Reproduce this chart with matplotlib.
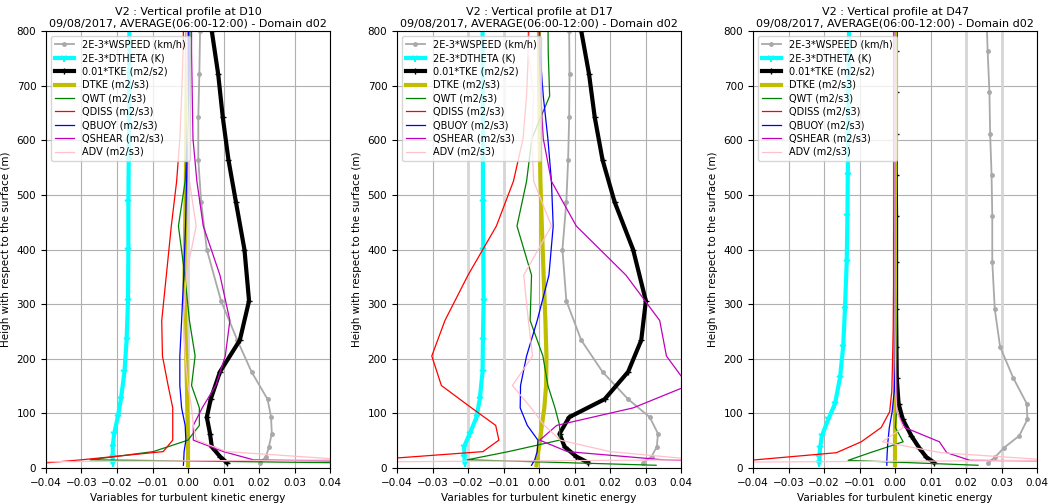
import numpy as np
import matplotlib
matplotlib.use('Agg')
import matplotlib.pyplot as plt

# heights (m) : mass levels and staggered levels used by the budget terms
z_mass = [10, 21, 39, 63, 93, 126, 176, 234, 306, 400, 487, 564, 642, 721, 800, 880]
z_w = [5, 15, 30, 51, 78, 110, 151, 205, 270, 353, 443, 525, 603, 681, 760, 840]
z_mass_d47 = [10, 20, 37, 59, 89, 118, 165, 222, 291, 378, 462, 537, 611, 688, 763, 840]
z_w_d47 = [5, 14, 28, 48, 74, 103, 141, 193, 256, 335, 420, 500, 574, 650, 725, 800]

stations = ['D10', 'D17', 'D47']

# ---- D10
wspeed_d10 = [0.0203, 0.022, 0.0228, 0.0236, 0.0234, 0.0224, 0.0179, 0.0139, 0.0093, 0.0053, 0.0037, 0.0029, 0.0029, 0.0032, 0.0034, 0.0036]
dtheta_d10 = [-0.0212, -0.0212, -0.0212, -0.0208, -0.0198, -0.0189, -0.0179, -0.0173, -0.0169, -0.0168, -0.0168, -0.0167, -0.0166, -0.0166, -0.0165, -0.0165]
tke_d10 = [0.0109, 0.009, 0.0067, 0.0062, 0.0053, 0.0064, 0.009, 0.0146, 0.0172, 0.0159, 0.0135, 0.0114, 0.0098, 0.0085, 0.0067, 0.005]
dtke_d10 = [0.0, 0.0, 0.0, 0.0, -0.0001, -0.0002, -0.0003, -0.0005, -0.0008, -0.001, -0.0008, -0.0006, -0.0005, -0.0004, -0.0003, -0.0003]
qwt_d10 = [0.1, -0.0276, -0.0098, 0.0, 0.0032, 0.0032, 0.001, 0.002, 0.0004, -0.0009, -0.0027, -0.0008, -0.0002, 0.0002, 0.0005, 0.0006]
qdiss_d10 = [-0.048, -0.03, -0.007, -0.0043, -0.0043, -0.0043, -0.0056, -0.0072, -0.0074, -0.0061, -0.0047, -0.0032, -0.0023, -0.0018, -0.0014, -0.0012]
qbuoy_d10 = [-0.0013, -0.0012, -0.0011, -0.0006, -0.0008, -0.0018, -0.0023, -0.0023, -0.0018, -0.0012, -0.0007, -0.0004, -0.0002, 0.0, 0.0001, 0.0001]
qshear_d10 = [0.12, 0.0184, 0.01, 0.0015, 0.0015, 0.004, 0.0078, 0.0105, 0.0118, 0.009, 0.0043, 0.0025, 0.0014, 0.0012, 0.001, 0.001]
adv_d10 = [-0.2, 0.045, 0.0109, 0.0024, 0.0015, 0.001, 0.0, -0.0008, -0.0013, -0.0005, 0.0023, 0.0004, 0.0, -0.0002, -0.0004, -0.0004]

# ---- D17
wspeed_d17 = [0.0293, 0.0317, 0.0332, 0.0335, 0.0312, 0.0251, 0.0179, 0.0119, 0.0077, 0.0066, 0.0077, 0.0082, 0.0085, 0.0086, 0.0085, 0.0085]
dtheta_d17 = [-0.0209, -0.021, -0.0211, -0.0195, -0.0176, -0.0167, -0.0159, -0.0158, -0.0156, -0.0157, -0.0158, -0.0158, -0.0158, -0.0159, -0.0159, -0.0159]
tke_d17 = [0.0138, 0.0105, 0.0072, 0.0058, 0.0085, 0.0185, 0.0251, 0.0288, 0.0301, 0.0265, 0.0213, 0.0179, 0.0157, 0.0141, 0.0119, 0.010]
dtke_d17 = [-0.0007, -0.0005, -0.0002, 0.0003, 0.0008, 0.0015, 0.002, 0.0021, 0.0018, 0.0013, 0.0008, 0.0004, 0.0002, 0.0001, 0.0, 0.0]
qwt_d17 = [0.033, -0.0202, -0.0086, 0.0058, 0.0058, 0.0045, 0.0025, 0.0011, -0.0025, -0.0021, -0.0062, -0.0035, -0.002, 0.003, 0.0026, 0.0025]
qdiss_d17 = [-0.09, -0.047, -0.0158, -0.0113, -0.0122, -0.019, -0.0275, -0.0302, -0.0265, -0.02, -0.012, -0.0072, -0.0045, -0.0035, -0.003, -0.0028]
qbuoy_d17 = [-0.0021, -0.0012, -0.0005, -0.0003, -0.0033, -0.0053, -0.0052, -0.0035, -0.0005, 0.0028, 0.004, 0.0035, 0.0025, 0.0012, 0.0003, 0.0]
qshear_d17 = [0.09, 0.035, 0.008, 0.0002, 0.005, 0.0265, 0.042, 0.0359, 0.034, 0.0245, 0.0105, 0.0035, 0.0012, 0.0005, 0.0001, 0.0]
adv_d17 = [-0.2, 0.045, 0.02, 0.006, 0.0015, -0.0022, -0.0075, -0.0018, -0.003, -0.0043, 0.0035, -0.0015, -0.002, -0.0015, -0.003, -0.0035]

# ---- D47
wspeed_d47 = [0.0263, 0.0282, 0.0307, 0.035, 0.0373, 0.0371, 0.0333, 0.0296, 0.0281, 0.0274, 0.0274, 0.0272, 0.0268, 0.0266, 0.0261, 0.0257]
dtheta_d47 = [-0.0213, -0.0213, -0.0211, -0.0206, -0.0188, -0.0169, -0.0155, -0.0146, -0.0141, -0.0136, -0.0134, -0.0133, -0.0132, -0.0131, -0.013, -0.0129]
tke_d47 = [0.011, 0.0088, 0.0068, 0.0046, 0.0022, 0.001, 0.0005, 0.0004, 0.0003, 0.0003, 0.0003, 0.0002, 0.0002, 0.0002, 0.0002, 0.0002]
dtke_d47 = [0.0, 0.0, 0.0, 0.0, 0.0, 0.0, 0.0, 0.0, 0.0, 0.0, 0.0, 0.0, 0.0, 0.0, 0.0, 0.0]
qwt_d47 = [0.0234, -0.0132, -0.007, 0.0023, 0.0001, 0.0004, 0.0005, 0.0003, 0.0002, 0.0001, 0.0001, 0.0, 0.0, 0.0, 0.0, 0.0]
qdiss_d47 = [-0.12, -0.041, -0.0165, -0.0095, -0.0039, -0.0015, -0.0009, -0.0007, -0.0005, -0.0004, -0.0004, -0.0003, -0.0003, -0.0003, -0.0003, -0.0003]
qbuoy_d47 = [-0.0023, -0.0023, -0.0022, -0.002, -0.0016, -0.0008, -0.0002, 0.0, 0.0, 0.0, 0.0, 0.0, 0.0, 0.0, 0.0, 0.0]
qshear_d47 = [0.25, 0.0211, 0.0146, 0.0125, 0.0028, 0.0005, 0.0003, 0.0002, 0.0001, 0.0001, 0.0, 0.0, 0.0, 0.0, 0.0, 0.0]
adv_d47 = [-0.2, 0.045, 0.013, -0.0036, 0.0023, 0.0005, 0.0002, 0.0001, 0.0, 0.0, 0.0, 0.0, 0.0, 0.0, 0.0, 0.0]

# lighter vertical reference lines seen over the grid
guides = [[0.0], [-0.02, -0.01], [0.02, 0.03]]

panels = [
    (z_mass, z_w, wspeed_d10, dtheta_d10, tke_d10, dtke_d10, qwt_d10, qdiss_d10, qbuoy_d10, qshear_d10, adv_d10),
    (z_mass, z_w, wspeed_d17, dtheta_d17, tke_d17, dtke_d17, qwt_d17, qdiss_d17, qbuoy_d17, qshear_d17, adv_d17),
    (z_mass_d47, z_w_d47, wspeed_d47, dtheta_d47, tke_d47, dtke_d47, qwt_d47, qdiss_d47, qbuoy_d47, qshear_d47, adv_d47),
]

plt.rcParams['font.size'] = 7.5

fig = plt.figure(figsize=(10.48, 5.03), dpi=100)
lefts = [46, 397, 753]

for k in range(3):
    zm, zw, ws, dth, tke, dtke, qwt, qdiss, qbuoy, qshear, adv = panels[k]
    ax = fig.add_axes([lefts[k] / 1048., 35. / 503, 284. / 1048, 437. / 503])
    for g in guides[k]:
        ax.axvline(g, color='#d6d6d6', lw=2, zorder=1)
    ax.plot(ws, zm, color='darkgray', lw=1.3, marker='.', ms=5, label='2E-3*WSPEED (km/h)')
    ax.plot(dth, zm, color='cyan', lw=3, marker='1', ms=6, mew=1.5, label='2E-3*DTHETA (K)')
    ax.plot(tke, zm, color='k', lw=3, marker='+', ms=5, label='0.01*TKE (m2/s2)')
    ax.plot(dtke, zw, color='y', lw=3, label='DTKE (m2/s3)')
    ax.plot(qwt, zw, color='g', lw=0.9, label='QWT (m2/s3)')
    ax.plot(qdiss, zw, color='r', lw=0.9, label='QDISS (m2/s3)')
    ax.plot(qbuoy, zw, color='b', lw=0.9, label='QBUOY (m2/s3)')
    ax.plot(qshear, zw, color='m', lw=0.9, label='QSHEAR (m2/s3)')
    ax.plot(adv, zw, color='pink', lw=0.9, label='ADV (m2/s3)')
    ax.set_xlim(-0.04, 0.04)
    ax.set_ylim(0, 800)
    ax.set_xticks(np.arange(-0.04, 0.041, 0.01))
    ax.set_yticks(range(0, 801, 100))
    ax.grid(True)
    ax.set_axisbelow(True)
    ax.set_title('V2 : Vertical profile at ' + stations[k] + '\n09/08/2017, AVERAGE(06:00-12:00) - Domain d02',
                 fontsize=8, pad=3)
    ax.set_xlabel('Variables for turbulent kinetic energy')
    ax.set_ylabel('Heigh with respect to the surface (m)')
    ax.legend(loc='upper left', fontsize=7, labelspacing=0.35)

plt.savefig('out.png', dpi=100)
